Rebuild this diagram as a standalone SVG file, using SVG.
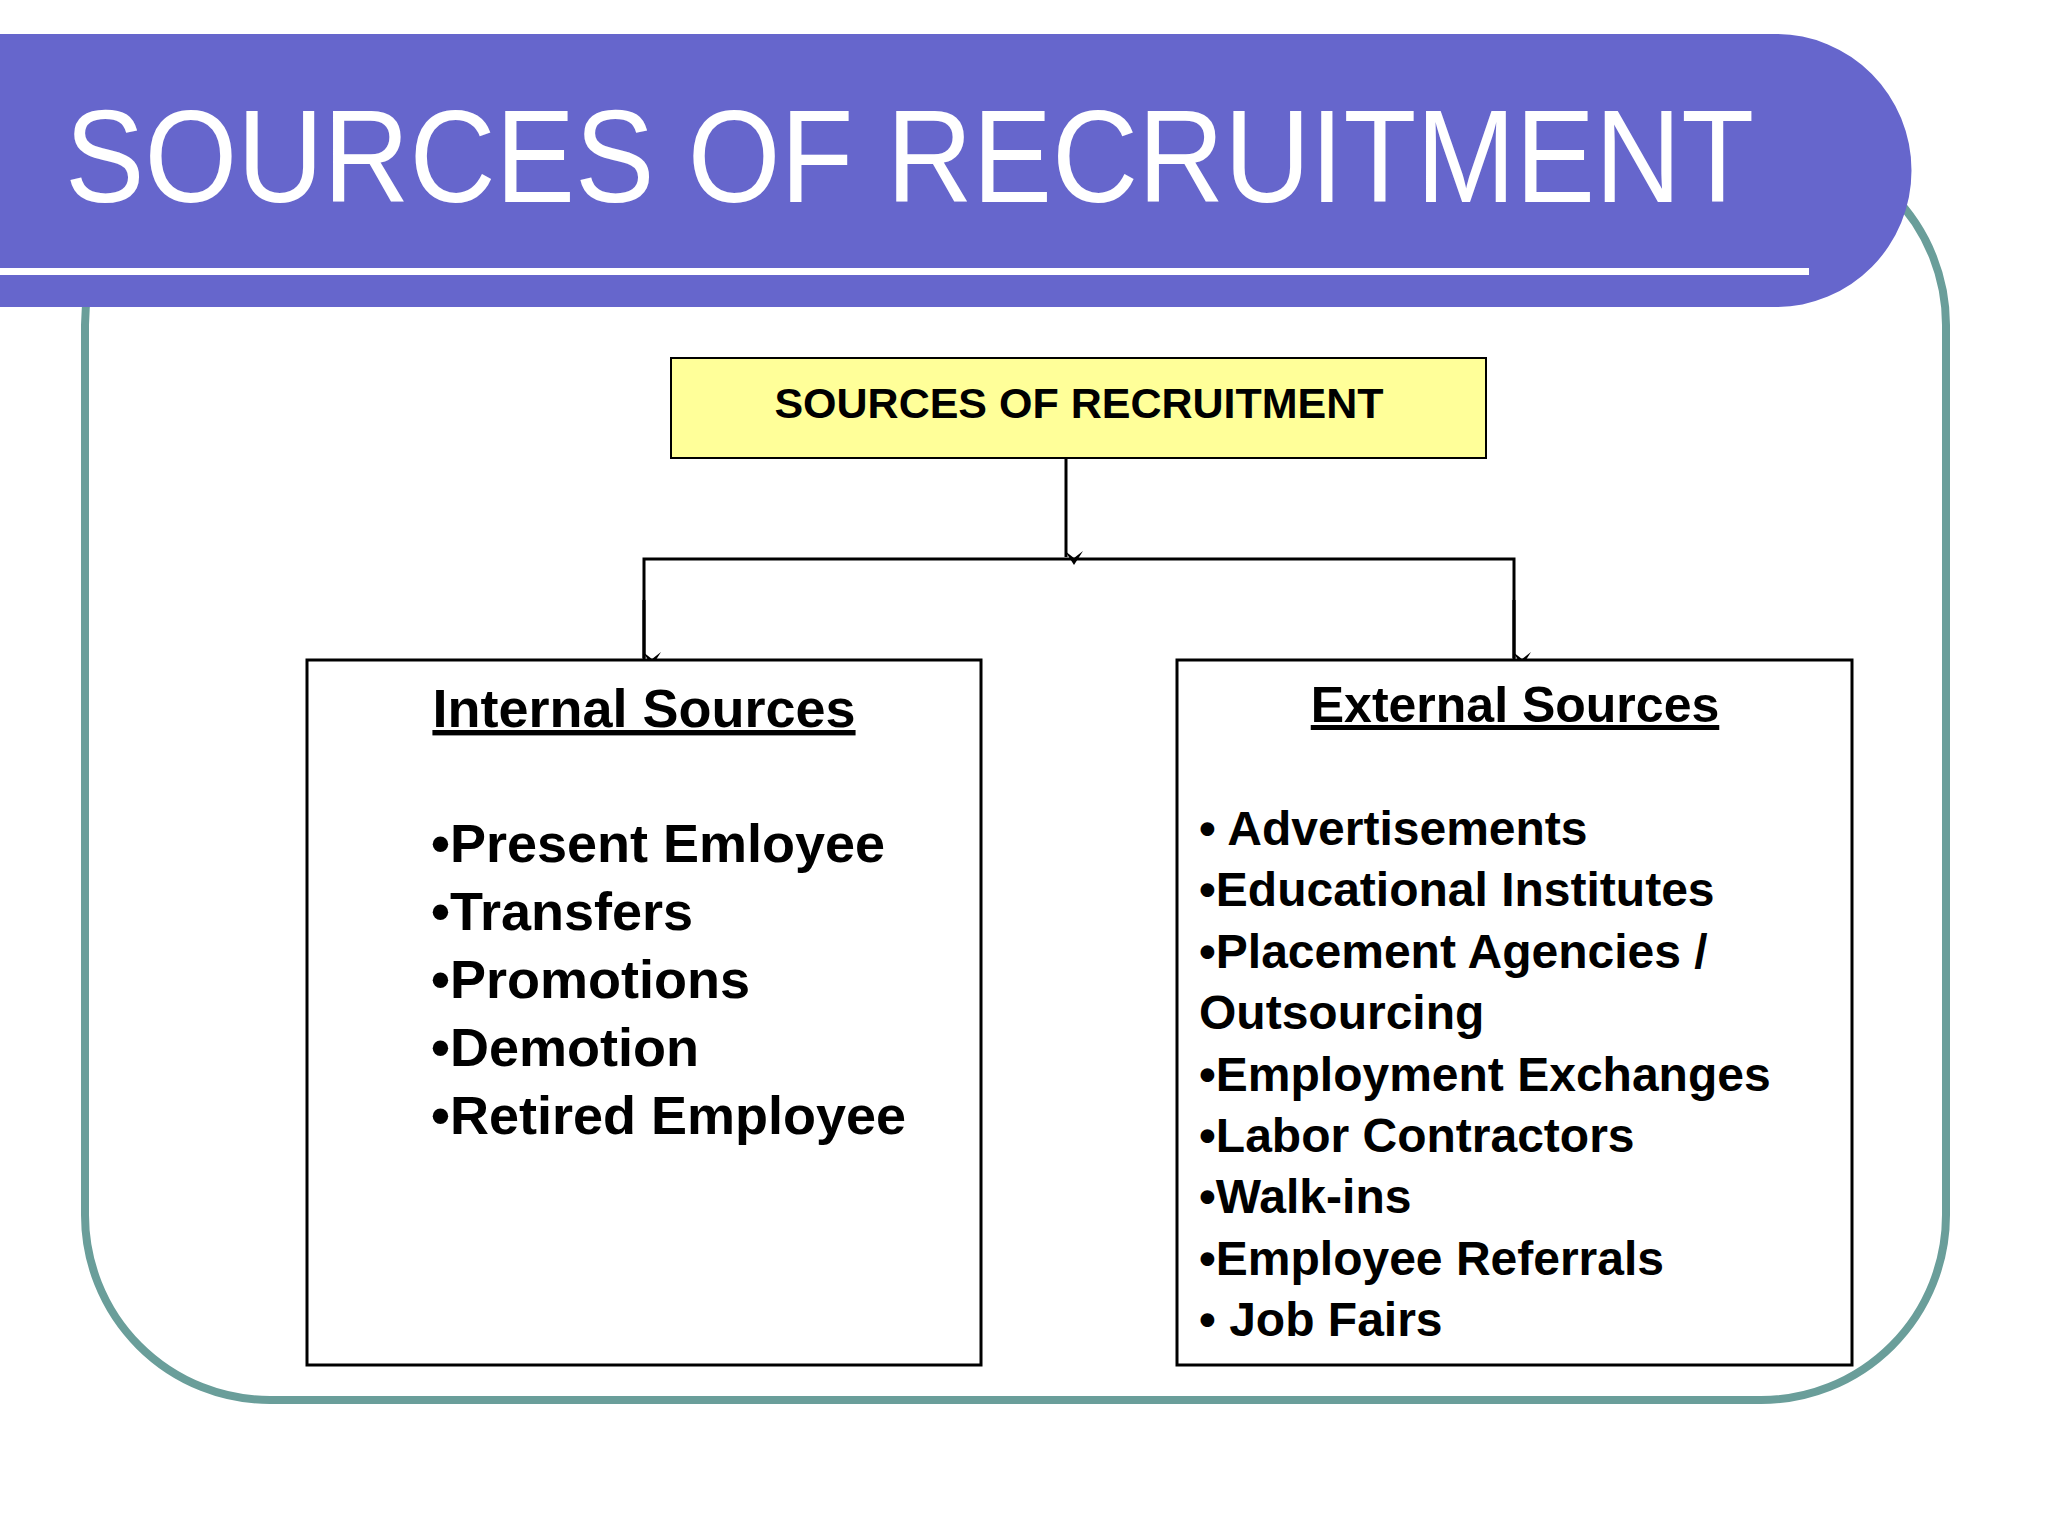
<svg xmlns="http://www.w3.org/2000/svg" width="2048" height="1536" viewBox="0 0 2048 1536">
<defs>
<style>
.b{font-family:"Liberation Sans",Arial,sans-serif;font-weight:bold;fill:#000}
.box{fill:#fff;stroke:#000;stroke-width:3}
.c{stroke:#000;stroke-width:3;fill:none}
</style>
<marker id="ah" viewBox="0 0 20 20" refX="10" refY="18" markerWidth="20" markerHeight="20" markerUnits="userSpaceOnUse" orient="auto-start-reverse">
<path d="M1,4 L10,18 L19,4 L10,11 Z" fill="#000" transform="rotate(-90 10 10)"/>
</marker>
</defs>
<rect width="2048" height="1536" fill="#fff"/>
<rect id="frame" x="85" y="140" width="1861" height="1260" rx="185" fill="none" stroke="#6a9e9a" stroke-width="8"/>
<g id="header">
<path d="M0,34 H1776 A135,136 0 0 1 1776,307 H0 Z" fill="#6666cc"/>
<rect x="0" y="268" width="1809" height="7" fill="#fff"/>
<text x="65" y="202" font-family="'Liberation Sans',Arial,sans-serif" font-size="131" fill="#fff" textLength="1689" lengthAdjust="spacingAndGlyphs">SOURCES OF RECRUITMENT</text>
</g>
<g id="root">
<rect x="671" y="358" width="815" height="100" fill="#ffff99" stroke="#000" stroke-width="2"/>
<text class="b" x="1079" y="418" font-size="43" text-anchor="middle">SOURCES OF RECRUITMENT</text>
</g>
<g id="connectors">
<line class="c" x1="1066" y1="458" x2="1066" y2="557" marker-end="url(#ah)"/>
<polyline class="c" points="644,660 644,559 1514,559 1514,660"/>
<line class="c" x1="644" y1="600" x2="644" y2="658" marker-end="url(#ah)"/>
<line class="c" x1="1514" y1="600" x2="1514" y2="658" marker-end="url(#ah)"/>
</g>
<g id="internal">
<rect class="box" x="307" y="660" width="674" height="705"/>
<text class="b" x="644" y="727" font-size="54" text-anchor="middle" text-decoration="underline">Internal Sources</text>
<g class="b" font-size="54">
<text x="431" y="862">•Present Emloyee</text>
<text x="431" y="930">•Transfers</text>
<text x="431" y="998">•Promotions</text>
<text x="431" y="1066">•Demotion</text>
<text x="431" y="1134">•Retired Employee</text>
</g>
</g>
<g id="external">
<rect class="box" x="1177" y="660" width="675" height="705"/>
<text class="b" x="1515" y="722" font-size="50" text-anchor="middle" text-decoration="underline">External Sources</text>
<g class="b" font-size="48">
<text x="1199" y="845">• Advertisements</text>
<text x="1199" y="906">•Educational Institutes</text>
<text x="1199" y="968">•Placement Agencies /</text>
<text x="1199" y="1029">Outsourcing</text>
<text x="1199" y="1091">•Employment Exchanges</text>
<text x="1199" y="1152">•Labor Contractors</text>
<text x="1199" y="1213">•Walk-ins</text>
<text x="1199" y="1275">•Employee Referrals</text>
<text x="1199" y="1336">• Job Fairs</text>
</g>
</g>
</svg>
